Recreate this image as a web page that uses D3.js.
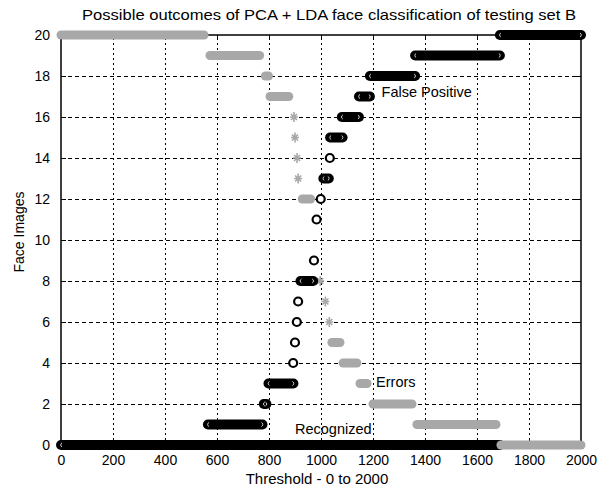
<!DOCTYPE html>
<meta charset="utf-8">
<style>
body { margin: 0; background: #fff; }
text { font-family: "Liberation Sans", Arial, sans-serif; fill: #000; }
.grid line { stroke: #000; stroke-width: 1px; }
.grid path { display: none; }
.tick-in path { display: none; }
.tick-in line { stroke: #000; }
.tick-in text { font-size: 14px; }
</style>
<svg width="610" height="491"></svg>
<script src="https://d3js.org/d3.v7.min.js"></script>
<script>

// axes
var xTickValues = [0, 200, 400, 600, 800, 1000, 1200, 1400, 1600, 1800, 2000];
var yTickValues = [0, 2, 4, 6, 8, 10, 12, 14, 16, 18, 20];

// runs of markers: [face images, threshold from, threshold to]
var recognizedRuns = [
  [0, 0, 1688]
];

var falsePositiveRuns = [
  [1, 565, 775], [2, 780, 790], [3, 798, 894], [4, 893, 893], [5, 900, 900],
  [6, 907, 907], [7, 912, 912], [8, 921, 970], [9, 973, 973], [11, 983, 983],
  [12, 999, 999], [13, 1009, 1030], [14, 1034, 1034], [15, 1035, 1083],
  [16, 1080, 1146], [17, 1146, 1188], [18, 1188, 1362], [19, 1362, 1688],
  [20, 1688, 2000]
];

var errorRuns = [
  [20, 0, 550], [19, 573, 764], [18, 786, 798], [17, 804, 876], [16, 896, 896],
  [15, 900, 900], [14, 908, 908], [13, 912, 912], [12, 928, 960], [8, 997, 997],
  [7, 1017, 1017], [6, 1032, 1032], [5, 1042, 1073], [4, 1085, 1138],
  [3, 1150, 1177], [2, 1200, 1350], [1, 1369, 1673], [0, 1692, 2000]
];

var annotations = [
  ["False Positive", 1233, 16.97],
  ["Errors", 1212, 2.84],
  ["Recognized", 900, 0.54]
];

var svg = d3.select("svg");

var x = d3.scaleLinear().domain([0, 2000]).range([61, 581]);
var y = d3.scaleLinear().domain([0, 20]).range([445, 35]);

// grid
svg.append("g")
    .attr("class", "grid")
    .attr("transform", "translate(0,445)")
    .call(d3.axisBottom(x).tickValues(xTickValues.slice(1, -1)).tickSize(-410).tickFormat(""))
  .selectAll("line")
    .attr("stroke-dasharray", "2,3");

svg.append("g")
    .attr("class", "grid")
    .attr("transform", "translate(61,0)")
    .call(d3.axisLeft(y).tickValues(yTickValues.slice(1, -1)).tickSize(-520).tickFormat(""))
  .selectAll("line")
    .attr("stroke-dasharray", "4,3");

// box
svg.append("rect")
    .attr("x", 61).attr("y", 35)
    .attr("width", 520).attr("height", 410)
    .attr("fill", "none")
    .attr("stroke", "#000")
    .attr("stroke-width", 1.5);

// inward ticks + labels
svg.append("g")
    .attr("class", "tick-in")
    .attr("transform", "translate(0,445)")
    .call(d3.axisBottom(x).tickValues(xTickValues).tickSize(-5).tickPadding(10).tickFormat(d3.format("d")));

svg.append("g")
    .attr("class", "tick-in")
    .attr("transform", "translate(61,0)")
    .call(d3.axisLeft(y).tickValues(yTickValues).tickSize(-5).tickPadding(11).tickFormat(d3.format("d")));

svg.append("g")
    .attr("class", "tick-in")
    .attr("transform", "translate(0,35)")
    .call(d3.axisTop(x).tickValues(xTickValues).tickSize(-5).tickFormat(""));

svg.append("g")
    .attr("class", "tick-in")
    .attr("transform", "translate(581,0)")
    .call(d3.axisRight(y).tickValues(yTickValues).tickSize(-5).tickFormat(""));

// markers
var plot = svg.append("g");

function drawBlack(runs) {
  runs.forEach(function(r) {
    var yy = y(r[0]), x0 = x(r[1]), x1 = x(r[2]);
    if (x1 - x0 > 2) {
      plot.append("line")
          .attr("x1", x0).attr("x2", x1)
          .attr("y1", yy).attr("y2", yy)
          .attr("stroke", "#000")
          .attr("stroke-width", 10)
          .attr("stroke-linecap", "round");
      // inner edge of first and last circle
      plot.append("path")
          .attr("d", "M" + (x0 + 1) + "," + (yy - 2) + " A2.2,2.2 0 0 0 " + (x0 + 1) + "," + (yy + 2))
          .attr("fill", "none").attr("stroke", "#fff").attr("stroke-width", 0.8);
      plot.append("path")
          .attr("d", "M" + (x1 - 1) + "," + (yy - 2) + " A2.2,2.2 0 0 1 " + (x1 - 1) + "," + (yy + 2))
          .attr("fill", "none").attr("stroke", "#fff").attr("stroke-width", 0.8);
    } else {
      plot.append("circle")
          .attr("cx", (x0 + x1) / 2).attr("cy", yy)
          .attr("r", 4)
          .attr("fill", "#fff")
          .attr("stroke", "#000")
          .attr("stroke-width", 2.2);
    }
  });
}

function drawGray(runs) {
  runs.forEach(function(r) {
    var yy = y(r[0]), x0 = x(r[1]), x1 = x(r[2]);
    if (x1 - x0 > 2) {
      plot.append("line")
          .attr("x1", x0).attr("x2", x1)
          .attr("y1", yy).attr("y2", yy)
          .attr("stroke", "#a8a8a8")
          .attr("stroke-width", 9)
          .attr("stroke-linecap", "round");
    } else {
      var cx = (x0 + x1) / 2;
      plot.append("path")
          .attr("d", "M" + (cx - 4) + "," + yy + "H" + (cx + 4) +
                     "M" + cx + "," + (yy - 5) + "V" + (yy + 5) +
                     "M" + (cx - 3) + "," + (yy - 3) + "L" + (cx + 3) + "," + (yy + 3) +
                     "M" + (cx - 3) + "," + (yy + 3) + "L" + (cx + 3) + "," + (yy - 3))
          .attr("fill", "none")
          .attr("stroke", "#a8a8a8")
          .attr("stroke-width", 1.6);
    }
  });
}

drawBlack(recognizedRuns);
drawGray(errorRuns);
drawBlack(falsePositiveRuns);

// annotations
svg.selectAll(".note")
  .data(annotations)
  .enter().append("text")
    .attr("class", "note")
    .attr("x", function(d) { return x(d[1]); })
    .attr("y", function(d) { return y(d[2]); })
    .style("font-size", "14.5px")
    .text(function(d) { return d[0]; });

// titles
svg.append("text")
    .attr("x", 82).attr("y", 20)
    .attr("textLength", 494)
    .attr("lengthAdjust", "spacingAndGlyphs")
    .style("font-size", "15px")
    .text("Possible outcomes of PCA + LDA face classification of testing set B");

svg.append("text")
    .attr("x", 317).attr("y", 484)
    .attr("text-anchor", "middle")
    .style("font-size", "15px")
    .text("Threshold - 0 to 2000");

svg.append("text")
    .attr("transform", "translate(24,232) rotate(-90)")
    .attr("text-anchor", "middle")
    .style("font-size", "14px")
    .text("Face Images");

</script>
